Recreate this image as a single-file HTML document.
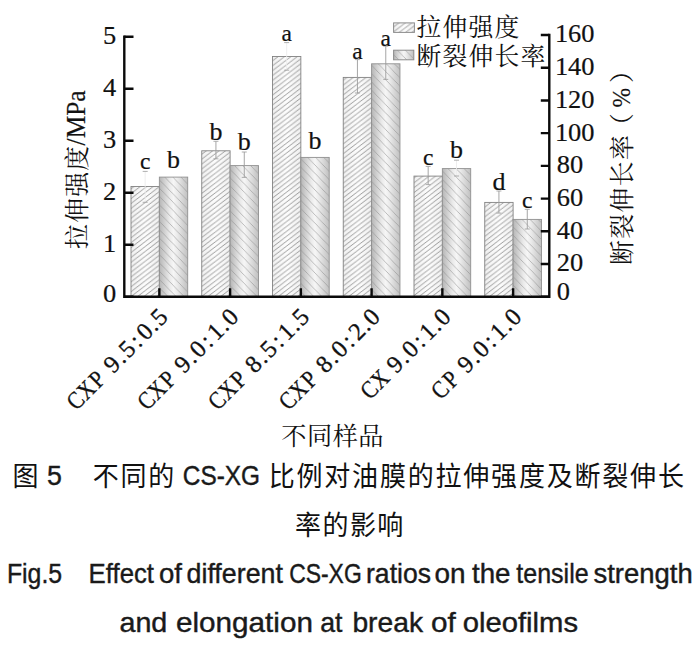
<!DOCTYPE html>
<html><head><meta charset="utf-8"><title>Fig.5</title>
<style>
html,body{margin:0;padding:0;background:#fff;}
svg{display:block}
.s{font-family:"Liberation Serif",serif;fill:#111;stroke:#111;stroke-width:0.2px}
.n{font-family:"Liberation Sans",sans-serif;fill:#1a1a1a;stroke:#1a1a1a;stroke-width:0.4px}
.cs{font-family:"Liberation Serif","Noto Serif CJK SC",serif;fill:#111}
.cn{font-family:"Liberation Sans","Noto Sans CJK SC",sans-serif;fill:#111}
</style></head><body>
<svg width="700" height="647" viewBox="0 0 700 647">
<defs>
<linearGradient id="g1" x1="0" x2="1" y1="0" y2="0"><stop offset="0" stop-color="#f0f0f0"/><stop offset="0.5" stop-color="#fdfdfd"/><stop offset="1" stop-color="#f0f0f0"/></linearGradient>
<linearGradient id="g2" x1="0" x2="1" y1="0" y2="0"><stop offset="0" stop-color="#b6b6b6"/><stop offset="0.36" stop-color="#eaeaea"/><stop offset="0.5" stop-color="#f6f6f6"/><stop offset="0.64" stop-color="#eaeaea"/><stop offset="1" stop-color="#c0c0c0"/></linearGradient>
<pattern id="h1" width="6.4" height="4.9" patternUnits="userSpaceOnUse"><path d="M-6.4 9.8L12.8 -4.9M-6.4 4.9L6.4 -4.9M0 9.8L12.8 0" stroke="#565656" stroke-width="0.56" fill="none"/></pattern>
<pattern id="h2" width="8.1" height="8.3" patternUnits="userSpaceOnUse"><path d="M-8.1 -8.3L16.2 16.6M0 -8.3L16.2 8.3M-8.1 0L8.1 16.6" stroke="#868686" stroke-width="0.5" fill="none"/></pattern>
</defs>
<rect width="700" height="647" fill="#fff"/>
<rect x="131.00" y="186.50" width="28.35" height="110.25" fill="url(#g1)"/>
<rect x="131.00" y="186.50" width="28.35" height="110.25" fill="url(#h1)" stroke="#828282" stroke-width="0.9"/>
<rect x="159.35" y="177.10" width="28.35" height="119.65" fill="url(#g2)"/>
<rect x="159.35" y="177.10" width="28.35" height="119.65" fill="url(#h2)" stroke="#909090" stroke-width="0.9"/>
<path d="M145.18 171.40V202.30" stroke="#ececec" stroke-width="0.9" fill="none"/>
<path d="M142.68 171.40h5M142.68 202.30h5" stroke="#9a9a9a" stroke-width="0.8" fill="none"/>
<text transform="translate(145.18 168.50) scale(1.03 1)" text-anchor="middle" class="s" font-size="22.8">c</text>
<text transform="translate(173.53 168.00) scale(1.03 1)" text-anchor="middle" class="s" font-size="25.2">b</text>
<rect x="201.75" y="150.80" width="28.35" height="145.95" fill="url(#g1)"/>
<rect x="201.75" y="150.80" width="28.35" height="145.95" fill="url(#h1)" stroke="#828282" stroke-width="0.9"/>
<rect x="230.10" y="165.60" width="28.35" height="131.15" fill="url(#g2)"/>
<rect x="230.10" y="165.60" width="28.35" height="131.15" fill="url(#h2)" stroke="#909090" stroke-width="0.9"/>
<path d="M215.93 141.30V158.80" stroke="#9c9c9c" stroke-width="0.9" fill="none"/>
<path d="M213.43 141.30h5M213.43 158.80h5" stroke="#9a9a9a" stroke-width="0.8" fill="none"/>
<path d="M244.28 152.00V177.40" stroke="#9c9c9c" stroke-width="0.9" fill="none"/>
<path d="M241.78 152.00h5M241.78 177.40h5" stroke="#9a9a9a" stroke-width="0.8" fill="none"/>
<text transform="translate(215.93 140.30) scale(1.03 1)" text-anchor="middle" class="s" font-size="25.2">b</text>
<text transform="translate(244.28 150.20) scale(1.03 1)" text-anchor="middle" class="s" font-size="25.2">b</text>
<rect x="272.50" y="56.50" width="28.35" height="240.25" fill="url(#g1)"/>
<rect x="272.50" y="56.50" width="28.35" height="240.25" fill="url(#h1)" stroke="#828282" stroke-width="0.9"/>
<rect x="300.85" y="157.40" width="28.35" height="139.35" fill="url(#g2)"/>
<rect x="300.85" y="157.40" width="28.35" height="139.35" fill="url(#h2)" stroke="#909090" stroke-width="0.9"/>
<path d="M286.68 42.60V70.20" stroke="#ececec" stroke-width="0.9" fill="none"/>
<path d="M284.18 42.60h5M284.18 70.20h5" stroke="#9a9a9a" stroke-width="0.8" fill="none"/>
<text transform="translate(286.68 41.00) scale(1.03 1)" text-anchor="middle" class="s" font-size="22.8">a</text>
<text transform="translate(315.03 148.70) scale(1.03 1)" text-anchor="middle" class="s" font-size="25.2">b</text>
<rect x="343.25" y="77.40" width="28.35" height="219.35" fill="url(#g1)"/>
<rect x="343.25" y="77.40" width="28.35" height="219.35" fill="url(#h1)" stroke="#828282" stroke-width="0.9"/>
<rect x="371.60" y="63.80" width="28.35" height="232.95" fill="url(#g2)"/>
<rect x="371.60" y="63.80" width="28.35" height="232.95" fill="url(#h2)" stroke="#909090" stroke-width="0.9"/>
<path d="M357.43 59.60V93.00" stroke="#9c9c9c" stroke-width="0.9" fill="none"/>
<path d="M354.93 59.60h5M354.93 93.00h5" stroke="#9a9a9a" stroke-width="0.8" fill="none"/>
<path d="M385.78 46.20V79.40" stroke="#9c9c9c" stroke-width="0.9" fill="none"/>
<path d="M383.28 46.20h5M383.28 79.40h5" stroke="#9a9a9a" stroke-width="0.8" fill="none"/>
<text transform="translate(357.43 59.40) scale(1.03 1)" text-anchor="middle" class="s" font-size="22.8">a</text>
<text transform="translate(385.78 46.00) scale(1.03 1)" text-anchor="middle" class="s" font-size="22.8">a</text>
<rect x="414.00" y="176.10" width="28.35" height="120.65" fill="url(#g1)"/>
<rect x="414.00" y="176.10" width="28.35" height="120.65" fill="url(#h1)" stroke="#828282" stroke-width="0.9"/>
<rect x="442.35" y="168.60" width="28.35" height="128.15" fill="url(#g2)"/>
<rect x="442.35" y="168.60" width="28.35" height="128.15" fill="url(#h2)" stroke="#909090" stroke-width="0.9"/>
<path d="M428.18 166.40V184.60" stroke="#9c9c9c" stroke-width="0.9" fill="none"/>
<path d="M425.68 166.40h5M425.68 184.60h5" stroke="#9a9a9a" stroke-width="0.8" fill="none"/>
<path d="M456.53 160.20V176.00" stroke="#ececec" stroke-width="0.9" fill="none"/>
<path d="M454.03 160.20h5M454.03 176.00h5" stroke="#9a9a9a" stroke-width="0.8" fill="none"/>
<text transform="translate(428.18 165.40) scale(1.03 1)" text-anchor="middle" class="s" font-size="22.8">c</text>
<text transform="translate(456.53 157.90) scale(1.03 1)" text-anchor="middle" class="s" font-size="25.2">b</text>
<rect x="484.75" y="202.40" width="28.35" height="94.35" fill="url(#g1)"/>
<rect x="484.75" y="202.40" width="28.35" height="94.35" fill="url(#h1)" stroke="#828282" stroke-width="0.9"/>
<rect x="513.10" y="219.40" width="28.35" height="77.35" fill="url(#g2)"/>
<rect x="513.10" y="219.40" width="28.35" height="77.35" fill="url(#h2)" stroke="#909090" stroke-width="0.9"/>
<path d="M498.93 191.00V213.10" stroke="#9c9c9c" stroke-width="0.9" fill="none"/>
<path d="M496.43 191.00h5M496.43 213.10h5" stroke="#9a9a9a" stroke-width="0.8" fill="none"/>
<path d="M527.27 209.30V229.00" stroke="#9c9c9c" stroke-width="0.9" fill="none"/>
<path d="M524.77 209.30h5M524.77 229.00h5" stroke="#9a9a9a" stroke-width="0.8" fill="none"/>
<text transform="translate(498.93 190.40) scale(1.03 1)" text-anchor="middle" class="s" font-size="25.2">d</text>
<text transform="translate(527.27 208.20) scale(1.03 1)" text-anchor="middle" class="s" font-size="22.8">c</text>
<path d="M124.3 35.550000000000004V296.75M549.3 33.85V296.75M123.1 296.75H550.5" stroke="#0a0a0a" stroke-width="2.4" fill="none"/>
<text transform="translate(116.30 302.10) scale(1.04 1)" text-anchor="end" class="s" font-size="25.4">0</text>
<text transform="translate(116.30 252.14) scale(1.04 1)" text-anchor="end" class="s" font-size="25.4">1</text>
<text transform="translate(116.30 200.13) scale(1.04 1)" text-anchor="end" class="s" font-size="25.4">2</text>
<text transform="translate(116.30 148.12) scale(1.04 1)" text-anchor="end" class="s" font-size="25.4">3</text>
<text transform="translate(116.30 96.11) scale(1.04 1)" text-anchor="end" class="s" font-size="25.4">4</text>
<text transform="translate(116.30 44.10) scale(1.04 1)" text-anchor="end" class="s" font-size="25.4">5</text>
<text transform="translate(556.70 299.60) scale(1.04 1)" text-anchor="start" class="s" font-size="25.4">0</text>
<text transform="translate(556.70 271.43) scale(1.04 1)" text-anchor="start" class="s" font-size="25.4">20</text>
<text transform="translate(556.70 238.71) scale(1.04 1)" text-anchor="start" class="s" font-size="25.4">40</text>
<text transform="translate(556.70 205.99) scale(1.04 1)" text-anchor="start" class="s" font-size="25.4">60</text>
<text transform="translate(556.70 173.28) scale(1.04 1)" text-anchor="start" class="s" font-size="25.4">80</text>
<text transform="translate(554.90 140.56) scale(1.04 1)" text-anchor="start" class="s" font-size="25.4">100</text>
<text transform="translate(554.90 107.84) scale(1.04 1)" text-anchor="start" class="s" font-size="25.4">120</text>
<text transform="translate(554.90 75.12) scale(1.04 1)" text-anchor="start" class="s" font-size="25.4">140</text>
<text transform="translate(554.90 42.40) scale(1.04 1)" text-anchor="start" class="s" font-size="25.4">160</text>
<path d="M124.3 296.75h9.2M124.3 244.74h9.2M124.3 192.73h9.2M124.3 140.72h9.2M124.3 88.71h9.2M124.3 36.70h9.2M549.3 296.75h-8.5M549.3 264.03h-8.5M549.3 231.31h-8.5M549.3 198.59h-8.5M549.3 165.88h-8.5M549.3 133.16h-8.5M549.3 100.44h-8.5M549.3 67.72h-8.5M549.3 35.00h-8.5M159.35 296.75v-8.5M230.10 296.75v-8.5M300.85 296.75v-8.5M371.60 296.75v-8.5M442.35 296.75v-8.5M513.10 296.75v-8.5" stroke="#0a0a0a" stroke-width="2.4" fill="none"/>
<g transform="translate(164.95 322.55) rotate(-45)" class="s" font-size="24.5" text-anchor="middle" style="stroke-width:0.32px"><text transform="translate(-118.60 0) scale(0.86 1)">C</text><text transform="translate(-103.30 0) scale(0.86 1)">X</text><text transform="translate(-88.00 0) scale(0.86 1)">P</text><text x="-67.10" y="0">9</text><text x="-56.30" y="0">.</text><text x="-45.60" y="0">5</text><text x="-33.40" y="0">:</text><text x="-20.80" y="0">0</text><text x="-10.60" y="0">.</text><text x="0.00" y="0">5</text></g>
<g transform="translate(235.70 322.55) rotate(-45)" class="s" font-size="24.5" text-anchor="middle" style="stroke-width:0.32px"><text transform="translate(-118.60 0) scale(0.86 1)">C</text><text transform="translate(-103.30 0) scale(0.86 1)">X</text><text transform="translate(-88.00 0) scale(0.86 1)">P</text><text x="-67.10" y="0">9</text><text x="-56.30" y="0">.</text><text x="-45.60" y="0">0</text><text x="-33.40" y="0">:</text><text x="-20.80" y="0">1</text><text x="-10.60" y="0">.</text><text x="0.00" y="0">0</text></g>
<g transform="translate(306.45 322.55) rotate(-45)" class="s" font-size="24.5" text-anchor="middle" style="stroke-width:0.32px"><text transform="translate(-118.60 0) scale(0.86 1)">C</text><text transform="translate(-103.30 0) scale(0.86 1)">X</text><text transform="translate(-88.00 0) scale(0.86 1)">P</text><text x="-67.10" y="0">8</text><text x="-56.30" y="0">.</text><text x="-45.60" y="0">5</text><text x="-33.40" y="0">:</text><text x="-20.80" y="0">1</text><text x="-10.60" y="0">.</text><text x="0.00" y="0">5</text></g>
<g transform="translate(377.20 322.55) rotate(-45)" class="s" font-size="24.5" text-anchor="middle" style="stroke-width:0.32px"><text transform="translate(-118.60 0) scale(0.86 1)">C</text><text transform="translate(-103.30 0) scale(0.86 1)">X</text><text transform="translate(-88.00 0) scale(0.86 1)">P</text><text x="-67.10" y="0">8</text><text x="-56.30" y="0">.</text><text x="-45.60" y="0">0</text><text x="-33.40" y="0">:</text><text x="-20.80" y="0">2</text><text x="-10.60" y="0">.</text><text x="0.00" y="0">0</text></g>
<g transform="translate(447.95 322.55) rotate(-45)" class="s" font-size="24.5" text-anchor="middle" style="stroke-width:0.32px"><text transform="translate(-103.30 0) scale(0.86 1)">C</text><text transform="translate(-88.00 0) scale(0.86 1)">X</text><text x="-67.10" y="0">9</text><text x="-56.30" y="0">.</text><text x="-45.60" y="0">0</text><text x="-33.40" y="0">:</text><text x="-20.80" y="0">1</text><text x="-10.60" y="0">.</text><text x="0.00" y="0">0</text></g>
<g transform="translate(518.70 322.55) rotate(-45)" class="s" font-size="24.5" text-anchor="middle" style="stroke-width:0.32px"><text transform="translate(-103.30 0) scale(0.86 1)">C</text><text transform="translate(-88.00 0) scale(0.86 1)">P</text><text x="-67.10" y="0">9</text><text x="-56.30" y="0">.</text><text x="-45.60" y="0">0</text><text x="-33.40" y="0">:</text><text x="-20.80" y="0">1</text><text x="-10.60" y="0">.</text><text x="0.00" y="0">0</text></g>
<rect x="393.6" y="22.9" width="20.8" height="9.5" fill="url(#g1)"/><rect x="393.6" y="22.9" width="20.8" height="9.5" fill="url(#h1)" stroke="#8c8c8c"/>
<rect x="393.6" y="50.2" width="20.2" height="9.6" fill="url(#g2)"/><rect x="393.6" y="50.2" width="20.2" height="9.6" fill="url(#h2)" stroke="#8c8c8c"/>
<text class="cs" font-size="24.8" x="416.6 442.6 468.6 494.6" y="36">拉伸强度</text>
<text class="cs" font-size="24.8" x="416.6 442.6 468.6 494.6 520.6" y="65">断裂伸长率</text>
<text class="cs" font-size="25.2" x="281.25 306.95 332.65 358.35" y="445">不同样品</text>
<g transform="translate(86.3 249.6) rotate(-90)"><text class="cs" font-size="24.8" x="0.65 26.75 52.85 78.95" y="0">拉伸强度</text><text x="104.2" y="-1.5" class="s" font-size="27" textLength="55" lengthAdjust="spacingAndGlyphs">/MPa</text></g>
<g transform="translate(631.3 265.6) rotate(-90)"><text class="cs" font-size="24.8" x="0.7 26.9 53.1 79.3 105.5" y="0">断裂伸长率</text><text class="cs" font-size="24.8" x="127.5" y="0">（</text><text x="158.00" y="-1.2" class="s" font-size="26" textLength="19.6" lengthAdjust="spacingAndGlyphs">%</text><text class="cs" font-size="24.8" x="182.49" y="0">）</text></g>
<text class="cn" font-size="26" transform="translate(0 485.8) scale(1 1.04)" x="12.6" y="0">图</text>
<text transform="translate(47.01 485.30) scale(0.9923 1.0222)" class="n" font-size="27">5</text>
<text class="cn" font-size="26" transform="translate(0 485.8) scale(1 1.04)" x="92.7 120.5 148.3" y="0">不同的</text>
<text transform="translate(182.85 485.30) scale(0.9036 1.0000)" class="n" font-size="27">CS-XG</text>
<text class="cn" font-size="26" transform="translate(0 485.8) scale(1 1.04)" x="268.7 296.5 324.3 352.1 379.9 407.7 435.5 463.3 491.1 518.9 546.7 574.5 602.3 630.1 657.9" y="0">比例对油膜的拉伸强度及断裂伸长</text>
<text class="cn" font-size="26" transform="translate(0 534.7) scale(1 1.04)" x="295.1 322.5 349.9 377.3" y="0">率的影响</text>
<text transform="translate(6.91 582.60) scale(0.9211 1.0000)" class="n" font-size="27">Fig.5</text>
<text transform="translate(88.59 582.60) scale(0.9552 1.0000)" class="n" font-size="27">Effect</text>
<text transform="translate(158.98 582.60) scale(1.0227 1.0000)" class="n" font-size="27">of</text>
<text transform="translate(186.51 582.60) scale(0.9948 1.0000)" class="n" font-size="27">different</text>
<text transform="translate(289.15 582.60) scale(0.8494 1.0000)" class="n" font-size="27">CS-XG</text>
<text transform="translate(366.03 582.60) scale(0.9841 1.0000)" class="n" font-size="27">ratios</text>
<text transform="translate(434.46 582.60) scale(1.0357 1.0000)" class="n" font-size="27">on</text>
<text transform="translate(472.00 582.60) scale(1.0270 1.0000)" class="n" font-size="27">the</text>
<text transform="translate(516.30 582.60) scale(0.9273 1.0000)" class="n" font-size="27">tensile</text>
<text transform="translate(593.48 582.60) scale(1.0184 1.0000)" class="n" font-size="27">strength</text>
<text transform="translate(119.44 631.50) scale(1.0640 1.0000)" class="n" font-size="27">and</text>
<text transform="translate(175.90 631.50) scale(1.1004 1.0000)" class="n" font-size="27">elongation</text>
<text transform="translate(320.26 631.50) scale(0.9886 1.0000)" class="n" font-size="27">at</text>
<text transform="translate(352.41 631.50) scale(1.0455 1.0000)" class="n" font-size="27">break</text>
<text transform="translate(430.90 631.50) scale(1.1023 1.0000)" class="n" font-size="27">of</text>
<text transform="translate(462.67 631.50) scale(1.0833 1.0000)" class="n" font-size="27">oleofilms</text>
</svg>
</body></html>
